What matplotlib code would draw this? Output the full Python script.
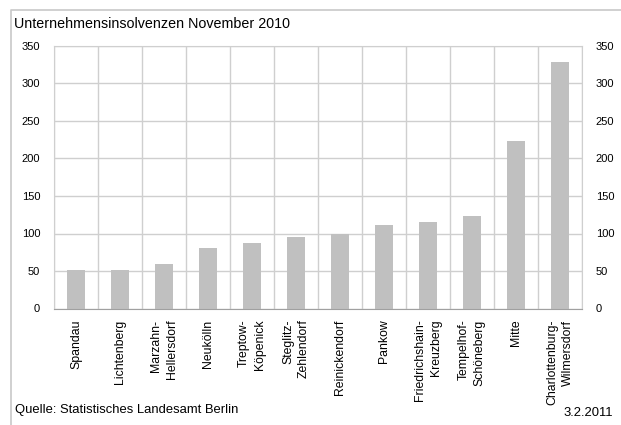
import matplotlib
matplotlib.use("Agg")
import matplotlib.pyplot as plt
import numpy as np
from matplotlib.lines import Line2D

plt.rcParams['font.family'] = ['Liberation Sans', 'DejaVu Sans']

bezirke = ["Spandau", "Lichtenberg", "Marzahn-\nHellersdorf", "Neukölln",
           "Treptow-\nKöpenick", "Steglitz-\nZehlendorf", "Reinickendorf",
           "Pankow", "Friedrichshain-\nKreuzberg", "Tempelhof-\nSchöneberg",
           "Mitte", "Charlottenburg-\nWilmersdorf"]
insolvenzen = [52, 52, 60, 81, 88, 96, 99, 112, 116, 123, 223, 328]
yticks = [0, 50, 100, 150, 200, 250, 300, 350]

W, H = 621, 425
fig = plt.figure(figsize=(W / 100, H / 100), dpi=100)
ax = fig.add_axes([54 / W, 1 - 308.5 / H, 528 / W, 262.5 / H])

x = np.arange(len(bezirke))
ax.bar(x, insolvenzen, width=0.43, color="#c0c0c0", zorder=2)

ax.set_xlim(-0.5, len(bezirke) - 0.5)
ax.set_ylim(0, 350)
ax.set_yticks(yticks)
ax.set_xticks(x)
ax.set_xticklabels(bezirke, rotation=90, fontsize=8.8, va="top", ha="center",
                   multialignment="right", linespacing=1.4)

# gridlines between categories and at every 50
for b in np.arange(-0.5, len(bezirke), 1.0):
    ax.axvline(b, color="#cfcfcf", lw=1, zorder=1)
for t in yticks:
    ax.axhline(t, color="#cfcfcf", lw=1, zorder=1)

for s in ax.spines.values():
    s.set_color("#cfcfcf")
ax.spines["bottom"].set_color("#a0a0a0")

ax.tick_params(axis="x", length=0, pad=8)
ax.tick_params(axis="y", length=0, labelsize=8, pad=10,
               labelleft=True, labelright=True)

# outer frame of the graphic (left and top only)
fx, fy = 11 / W, 1 - 10 / H
fig.add_artist(Line2D([fx, fx, 1.0], [0.0, fy, fy], transform=fig.transFigure,
                      color="#c8c8c8", lw=1.2))

fig.text(14 / W, 1 - 23.5 / H, "Unternehmensinsolvenzen November 2010",
         fontsize=10.3, va="center", ha="left")
fig.text(15 / W, 1 - 410 / H, "Quelle: Statistisches Landesamt Berlin",
         fontsize=9.4, va="center", ha="left")
fig.text(613 / W, 1 - 413 / H, "3.2.2011", fontsize=9.4, va="center", ha="right")

fig.savefig("out.png", dpi=100)
